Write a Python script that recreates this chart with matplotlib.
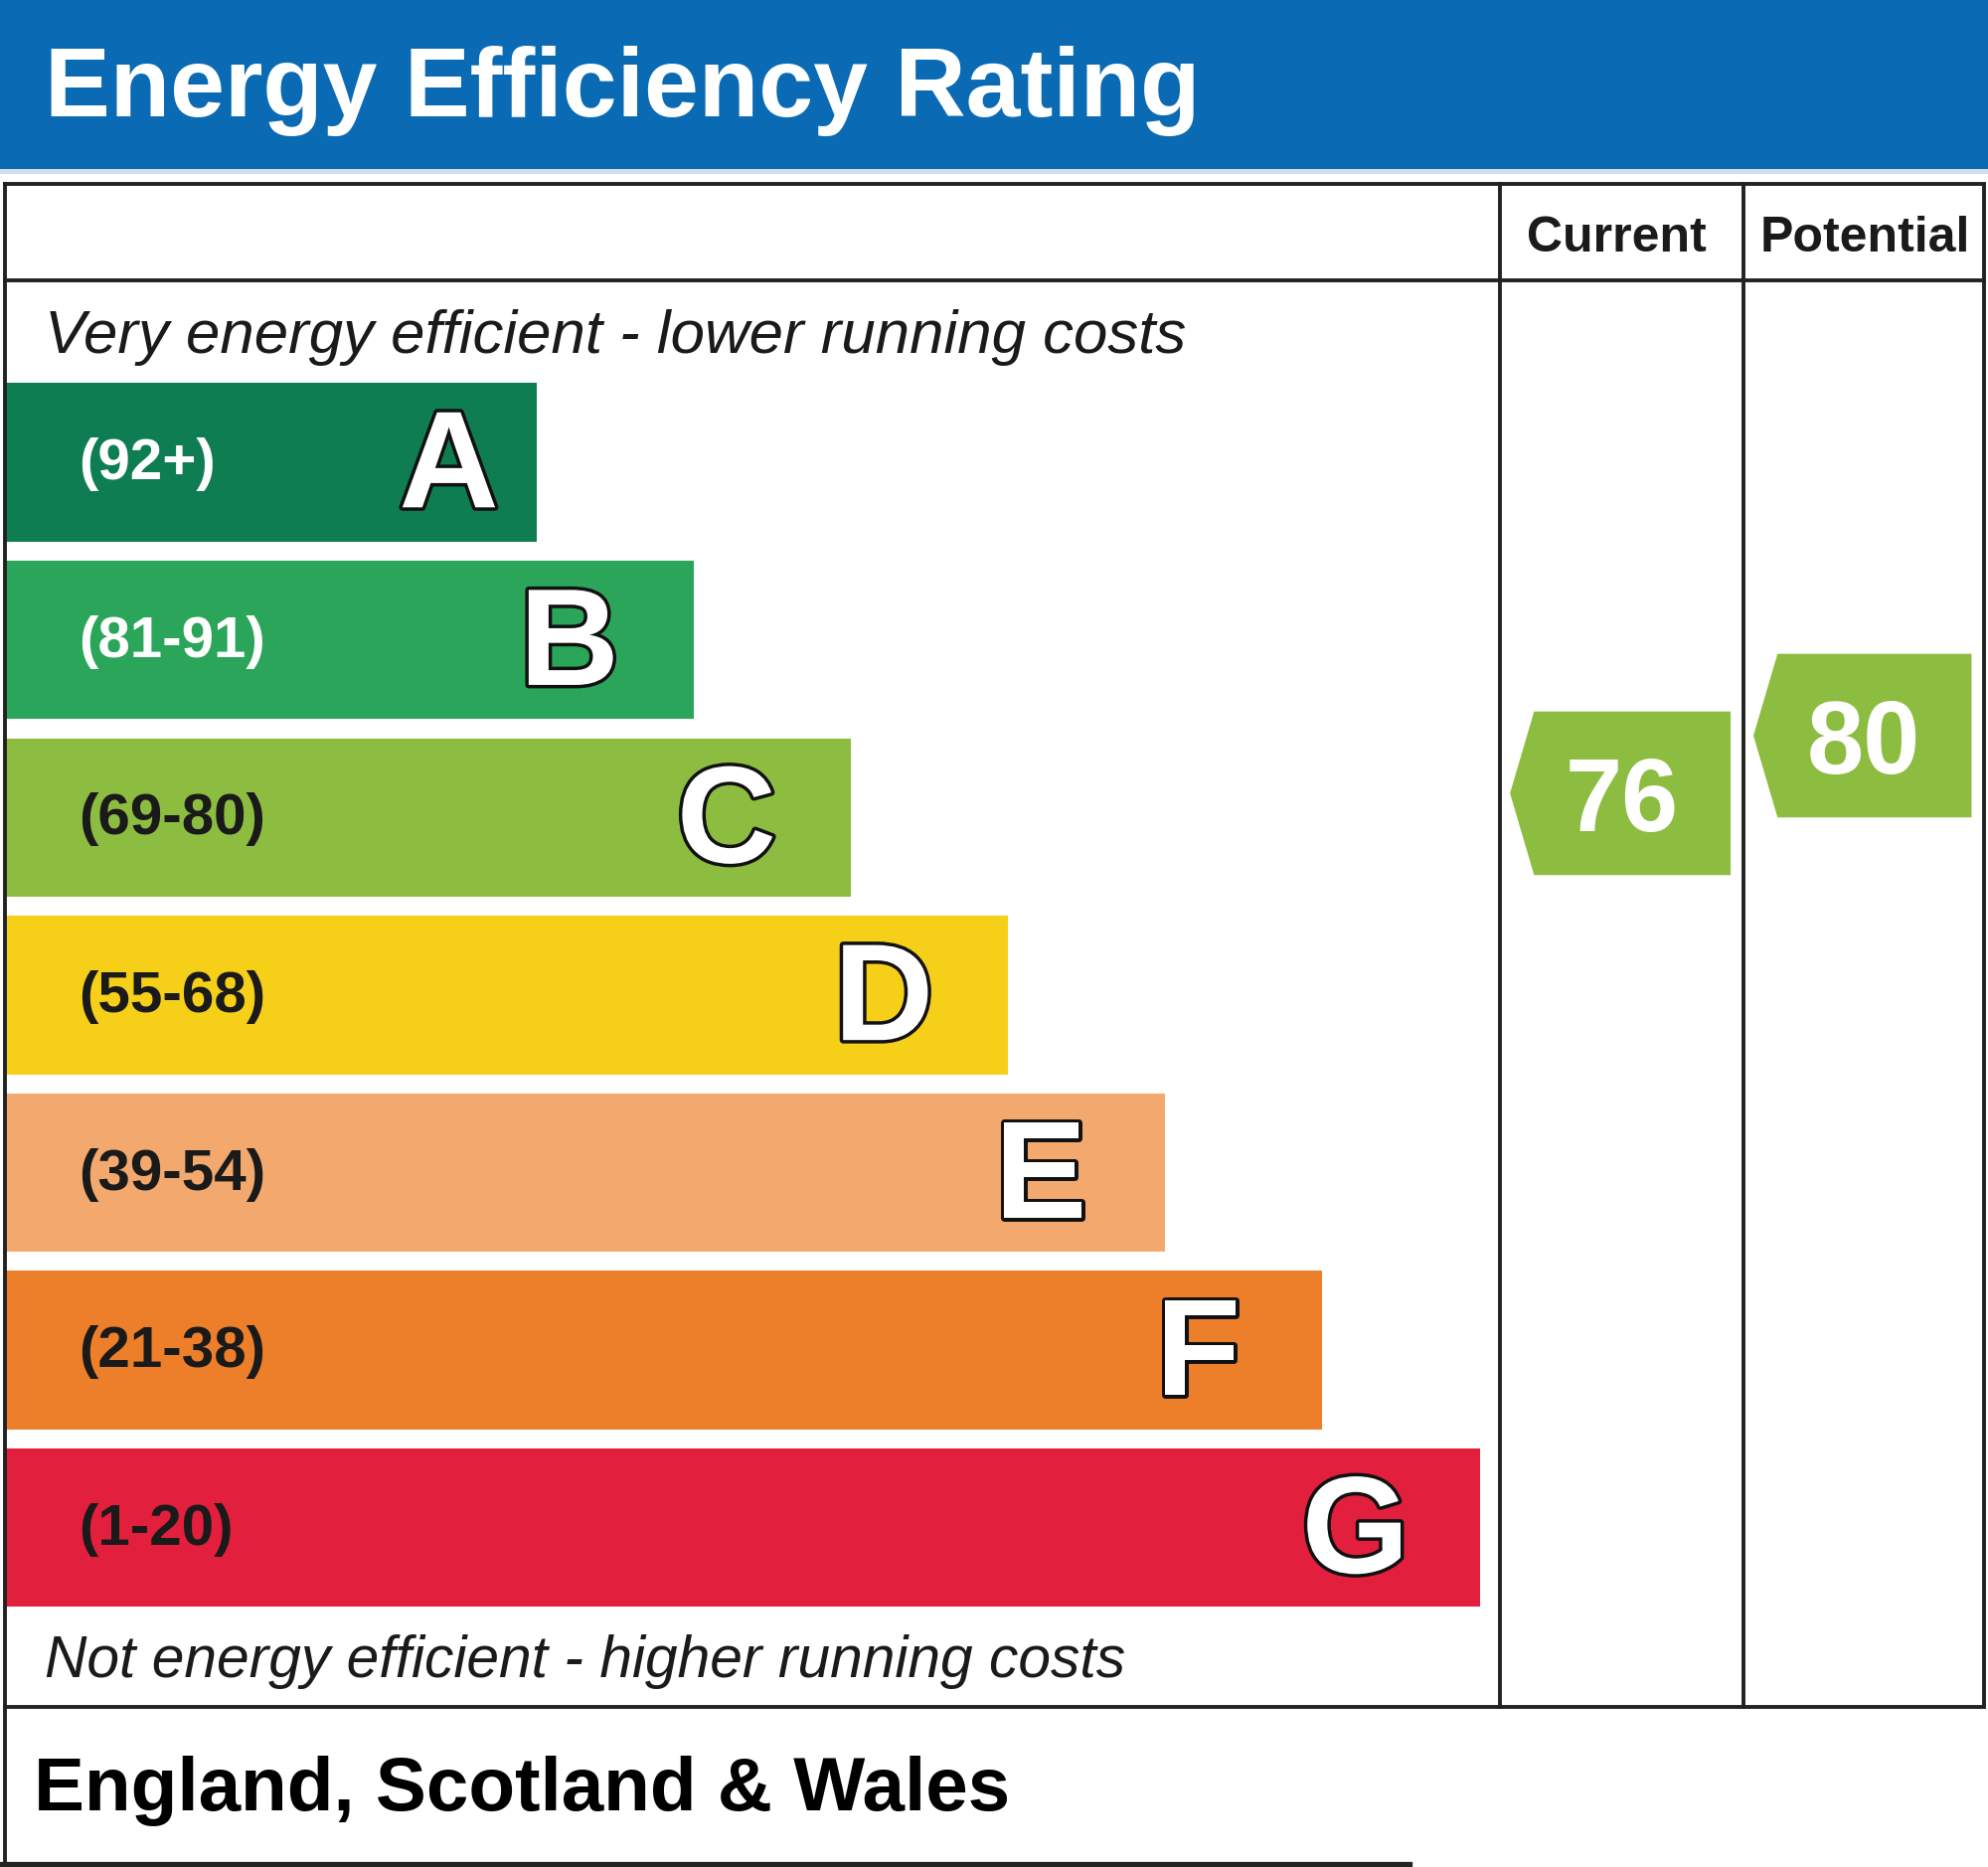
import matplotlib
matplotlib.use("Agg")
import matplotlib.pyplot as plt
from matplotlib.patches import Rectangle, Polygon
import matplotlib.patheffects as pe

# ---------------- data ----------------
bands = ['A', 'B', 'C', 'D', 'E', 'F', 'G']
range_labels = ['(92+)', '(81-91)', '(69-80)', '(55-68)', '(39-54)', '(21-38)', '(1-20)']
band_min = [92, 81, 69, 55, 39, 21, 1]
band_max = [100, 91, 80, 68, 54, 38, 20]
band_colors = ['#0f7d52', '#2aa55a', '#8dbd40', '#f5cf18', '#f3a96d', '#ed7f2a', '#e21f3c']
label_colors = ['white', 'white', '#1a1a1a', '#1a1a1a', '#1a1a1a', '#1a1a1a', '#1a1a1a']
current_rating = 76
potential_rating = 80
title = 'Energy Efficiency Rating'
top_text = 'Very energy efficient - lower running costs'
bottom_text = 'Not energy efficient - higher running costs'
region_text = 'England, Scotland & Wales'
col_headers = ['Current', 'Potential']

# ---------------- layout (display units, 1568 x 1472) ----------------
W, H = 1568.0, 1472.0
fig = plt.figure(figsize=(20, 18.78), dpi=100)
ax = fig.add_axes([0, 0, 1, 1])
ax.set_xlim(0, W)
ax.set_ylim(H, 0)
ax.axis('off')
fig.patch.set_facecolor('white')

FONT = 'Liberation Sans'
BLUE = '#0a6ab3'
LW = 2.8

# header
ax.add_patch(Rectangle((0, 0), W, 133, facecolor=BLUE, edgecolor='none'))
ax.add_patch(Rectangle((0, 133), W, 4, facecolor='#cfe0f0', edgecolor='none'))
ax.text(35, 92, title, color='white', fontsize=71, fontweight='bold',
        family=FONT, va='baseline', ha='left')

# frame
fx0, fx1, fy0, fy1 = 4, 1565, 145, 1346
c1, c2 = 1183, 1375
ax.plot([fx0, fx1, fx1, fx0, fx0], [fy0, fy0, fy1, fy1, fy0], color='#222', lw=LW,
        solid_joinstyle='miter')
ax.plot([fx0, fx1], [221, 221], color='#222', lw=LW)
ax.plot([c1, c1], [fy0, fy1], color='#222', lw=LW)
ax.plot([c2, c2], [fy0, fy1], color='#222', lw=LW)
# bottom region box
ax.plot([fx0, fx0], [fy1, 1470], color='#222', lw=LW)
ax.plot([0, 1112], [1470, 1470], color='#222', lw=LW + 1)

# column headers
ax.text((c1 + c2) / 2 - 4, 198, col_headers[0], fontsize=36, fontweight='bold',
        family=FONT, ha='center', va='baseline', color='#1a1a1a')
ax.text((c2 + fx1) / 2 + 1, 198, col_headers[1], fontsize=36, fontweight='bold',
        family=FONT, ha='center', va='baseline', color='#1a1a1a')

ax.text(35, 278, top_text, fontsize=44.5, fontstyle='italic', family=FONT,
        ha='left', va='baseline', color='#1a1a1a')
ax.text(35, 1322, bottom_text, fontsize=42.3, fontstyle='italic', family=FONT,
        ha='left', va='baseline', color='#1a1a1a')
ax.text(27, 1427, region_text, fontsize=55, fontweight='bold', family=FONT,
        ha='left', va='baseline', color='black')

# bands
bar_x0 = 5
bar_top0, bar_step, bar_h = 302, 140, 125
end0, end_step = 423, 124
tops = []
for i, (b, rl, col, lc) in enumerate(zip(bands, range_labels, band_colors, label_colors)):
    top = bar_top0 + i * bar_step
    tops.append(top)
    end = end0 + i * end_step
    ax.add_patch(Rectangle((bar_x0, top), end - bar_x0, bar_h, facecolor=col, edgecolor='none'))
    ax.text(62, top + 76, rl, fontsize=42, fontweight='bold', family=FONT,
            color=lc, ha='left', va='baseline')
    lx = end - (69 if i == 0 else 98)
    ax.text(lx, top + 98, b, fontsize=100, fontweight='bold', family=FONT,
            color='white', ha='center', va='baseline',
            path_effects=[pe.Stroke(linewidth=5, foreground='#111'), pe.Normal()])


def rating_y(v):
    for i in range(len(bands)):
        if band_min[i] <= v <= band_max[i]:
            return tops[i] + (band_max[i] - v) / (band_max[i] - band_min[i]) * bar_h - 2, i
    return tops[-1], len(bands) - 1


def draw_arrow(v, xl, xr):
    yc, i = rating_y(v)
    hh = 64.5
    tip = xl + 8
    flat = tip + 19
    right = xr - 10
    poly = [(tip, yc), (flat, yc - hh), (right, yc - hh), (right, yc + hh), (flat, yc + hh)]
    ax.add_patch(Polygon(poly, closed=True, facecolor=band_colors[i], edgecolor='none'))
    ax.text((tip + right) / 2 + 1, yc + 30, str(v), fontsize=74, fontweight='bold',
            family=FONT, color='white', ha='center', va='baseline')


draw_arrow(current_rating, c1, c2)
draw_arrow(potential_rating, c2, fx1)

fig.savefig('out.png', dpi=100, facecolor='white')
